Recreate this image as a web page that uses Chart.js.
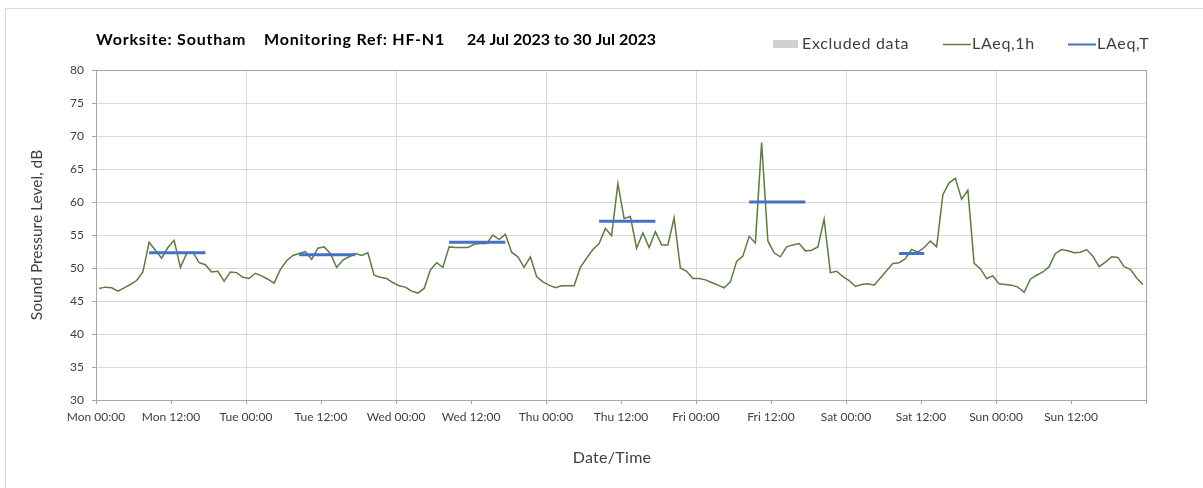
<!DOCTYPE html>
<html>
<head>
<meta charset="utf-8">
<script src="https://cdn.jsdelivr.net/npm/chart.js@4"></script>
<style>
  html, body { margin: 0; padding: 0; background: #fff; }
  #wrap { width: 1203px; height: 488px; }
</style>
</head>
<body>
<div id="wrap"><canvas id="myChart" width="1203" height="488"></canvas></div>
<script>
// hourly LAeq,1h values, one array per day (00:00 - 23:00)
const monValues = [46.9, 47.1, 47.0, 46.5, 47.0, 47.5, 48.1, 49.4, 53.9, 52.7, 51.5, 53.1, 54.2, 50.1, 52.2, 52.4, 50.8, 50.5, 49.4, 49.5, 48.0, 49.4, 49.3, 48.6];
const tueValues = [48.4, 49.2, 48.8, 48.3, 47.7, 49.8, 51.1, 51.9, 52.2, 52.5, 51.3, 53.0, 53.2, 52.2, 50.1, 51.2, 51.7, 52.2, 51.9, 52.3, 48.9, 48.6, 48.4, 47.8];
const wedValues = [47.3, 47.1, 46.5, 46.2, 46.9, 49.7, 50.8, 50.1, 53.2, 53.1, 53.1, 53.1, 53.6, 53.7, 53.7, 55.0, 54.3, 55.1, 52.4, 51.7, 50.1, 51.7, 48.7, 47.9];
const thuValues = [47.4, 47.0, 47.3, 47.3, 47.3, 50.1, 51.5, 52.8, 53.7, 56.0, 54.9, 62.8, 57.5, 57.8, 53.0, 55.3, 53.1, 55.5, 53.5, 53.5, 57.6, 50.0, 49.5, 48.4];
const friValues = [48.4, 48.2, 47.8, 47.4, 47.0, 47.9, 51.0, 51.8, 54.8, 53.8, 69.0, 54.1, 52.3, 51.7, 53.2, 53.5, 53.7, 52.6, 52.7, 53.2, 57.4, 49.3, 49.5, 48.7];
const satValues = [48.1, 47.2, 47.5, 47.6, 47.4, 48.5, 49.6, 50.7, 50.8, 51.4, 52.8, 52.4, 53.1, 54.1, 53.2, 61.1, 62.9, 63.6, 60.4, 61.8, 50.7, 49.9, 48.4, 48.8];
const sunValues = [47.6, 47.5, 47.4, 47.1, 46.3, 48.3, 48.9, 49.4, 50.2, 52.2, 52.8, 52.6, 52.3, 52.4, 52.8, 51.8, 50.2, 50.9, 51.7, 51.6, 50.2, 49.8, 48.5, 47.5];

// LAeq,T over the working periods (hours from Mon 00:00)
const periodStart = [8.5, 32.5, 56.5, 80.5, 104.5, 128.5];
const periodEnd   = [17.5, 41.5, 65.5, 89.5, 113.5, 132.5];
const laeqT       = [52.3, 52.0, 53.9, 57.1, 60.0, 52.2];

const tickLabels = ['Mon 00:00', 'Mon 12:00', 'Tue 00:00', 'Tue 12:00', 'Wed 00:00', 'Wed 12:00', 'Thu 00:00', 'Thu 12:00',
                    'Fri 00:00', 'Fri 12:00', 'Sat 00:00', 'Sat 12:00', 'Sun 00:00', 'Sun 12:00', ''];

const hourly = [].concat(monValues, tueValues, wedValues, thuValues, friValues, satValues, sunValues);
// each hourly level plotted at the middle of its hour
const hourlyPoints = hourly.map((v, i) => ({ x: i + 0.5, y: v }));

let periodPoints = [];
laeqT.forEach((v, i) => {
  periodPoints.push({ x: periodStart[i], y: v });
  periodPoints.push({ x: periodEnd[i], y: v });
  periodPoints.push({ x: periodEnd[i], y: null });
});

const FONT = 'Lato, "Open Sans", sans-serif';
const TEXT = '#404040';
const AXIS = '#a6a6a6';
const GRID = '#d9d9d9';

const decor = {
  id: 'decor',
  beforeDraw(chart) {
    const c = chart.ctx;
    c.save();
    c.fillStyle = '#fff';
    c.fillRect(0, 0, chart.width, chart.height);
    c.strokeStyle = GRID;
    c.lineWidth = 1;
    c.strokeRect(5.5, 8.5, chart.width, chart.height);
    c.restore();
  },
  afterDraw(chart) {
    const c = chart.ctx;
    c.save();
    c.textBaseline = 'middle';
    c.fillStyle = '#000';
    c.font = 'bold 16px ' + FONT;
    c.letterSpacing = '0.8px';
    c.fillText('Worksite: Southam', 96, 40);
    c.fillText('Monitoring Ref: HF-N1', 264, 40);
    c.letterSpacing = '0px';
    c.fillText('24 Jul 2023 to 30 Jul 2023', 467, 40);

    // legend
    c.font = '16px ' + FONT;
    c.letterSpacing = '0.7px';
    c.fillStyle = '#d0d0d0';
    c.fillRect(773, 40, 25, 8);
    c.fillStyle = TEXT;
    c.fillText('Excluded data', 802, 44);

    c.strokeStyle = '#5d7b43';
    c.lineWidth = 1.5;
    c.beginPath(); c.moveTo(943, 44.5); c.lineTo(971, 44.5); c.stroke();
    c.fillText('LAeq,1h', 972, 44);

    c.strokeStyle = '#4472c4';
    c.lineWidth = 2;
    c.beginPath(); c.moveTo(1068, 44.5); c.lineTo(1096, 44.5); c.stroke();
    c.fillText('LAeq,T', 1097, 44);

    // x axis title
    c.letterSpacing = '0.3px';
    c.textAlign = 'center';
    c.fillText('Date/Time', 612, 458);
    c.restore();
  }
};

const ctx = document.getElementById('myChart');
new Chart(ctx, {
  type: 'line',
  data: {
    datasets: [
      {
        label: 'LAeq,T',
        data: periodPoints,
        borderColor: '#4472c4',
        borderWidth: 3,
        pointRadius: 0,
        spanGaps: false,
        tension: 0
      },
      {
        label: 'LAeq,1h',
        data: hourlyPoints,
        borderColor: '#5d7b43',
        borderWidth: 1.5,
        pointRadius: 0,
        tension: 0
      }
    ]
  },
  options: {
    responsive: false,
    animation: false,
    events: [],
    layout: { padding: { left: 0, right: 57, top: 70, bottom: 0 } },
    plugins: {
      legend: { display: false },
      tooltip: { enabled: false }
    },
    scales: {
      x: {
        type: 'linear',
        min: 0,
        max: 168,
        afterFit: (scale) => { scale.height = 88; },
        ticks: {
          stepSize: 12,
          autoSkip: false,
          maxRotation: 0,
          padding: 6,
          color: TEXT,
          font: { family: FONT, size: 12 },
          callback: (v) => tickLabels[Math.round(v / 12)]
        },
        grid: {
          color: (c) => {
            const v = c.tick ? c.tick.value : 0;
            if (v === 168) return AXIS;
            return v % 24 === 0 ? GRID : 'rgba(0,0,0,0)';
          },
          tickColor: AXIS,
          tickLength: 4
        },
        border: { color: AXIS }
      },
      y: {
        min: 30,
        max: 80,
        afterFit: (scale) => { scale.width = 96; },
        ticks: {
          stepSize: 5,
          padding: 8,
          color: TEXT,
          font: { family: FONT, size: 12 }
        },
        grid: {
          color: (c) => (c.tick && c.tick.value === 80 ? AXIS : GRID),
          tickColor: AXIS,
          tickLength: 4
        },
        border: { color: AXIS },
        title: {
          display: true,
          text: 'Sound Pressure Level, dB',
          color: TEXT,
          font: { family: FONT, size: 15.5 },
          padding: { top: 28 }
        }
      }
    }
  },
  plugins: [decor]
});
</script>
</body>
</html>
